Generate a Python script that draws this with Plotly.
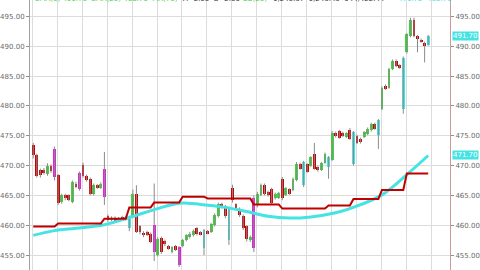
import plotly.graph_objects as go

# ---- data ----
opens = [473.4,471.8,469.2,469.3,468.6,469.9,472.8,468.4,463.9,465.1,465.0,463.9,467.0,468.8,470.1,468.3,467.7,465.2,466.7,466.3,
         469.4,461.5,460.9,461.3,460.8,461.4,461.0,461.4,461.5,465.3,459.8,458.7,458.9,458.6,460.0,455.0,457.9,457.4,456.5,455.5,
         456.5,456.3,456.5,457.5,458.0,458.3,459.5,458.8,459.2,459.0,458.9,460.0,461.5,463.6,463.2,462.8,466.2,463.5,462.7,461.5,
         459.8,457.5,464.5,463.4,465.1,466.7,465.5,466.0,464.5,464.6,467.8,465.1,466.0,465.9,467.6,470.3,470.6,470.2,470.0,472.0,
         469.8,469.3,470.5,471.4,471.0,475.5,475.8,475.5,474.8,476.0,475.6,475.0,474.5,474.8,475.3,475.9,477.0,477.6,479.5,483.4,
         483.1,486.2,487.6,486.8,488.1,489.0,491.7,494.5,491.7,491.1,490.6,490.3]
closes = [471.7,468.3,468.4,468.8,470.0,469.1,468.1,463.7,465.0,464.5,464.3,467.2,466.5,466.0,468.3,467.6,465.2,466.8,466.3,467.0,
          464.8,460.9,461.3,460.8,461.2,461.0,461.4,459.6,465.3,458.9,458.9,458.3,458.4,457.2,455.6,457.7,455.5,456.8,456.1,456.3,
          455.9,453.3,457.5,458.3,458.6,459.0,458.6,458.5,456.2,458.7,460.2,461.7,463.5,463.0,461.5,457.5,464.2,462.8,461.7,459.5,
          457.7,458.0,456.2,465.3,466.7,465.3,465.0,463.8,465.3,465.4,464.5,466.2,465.3,467.8,470.3,469.5,466.7,469.0,471.4,469.5,
          469.2,470.4,472.0,469.8,475.5,474.9,474.7,475.0,475.4,474.5,470.3,473.8,473.9,475.6,476.2,477.0,476.2,475.1,483.1,482.9,
          486.2,487.6,486.7,486.4,479.5,492.0,494.5,491.7,491.2,490.8,490.1,491.7]
highs = [473.8,472.0,469.5,469.6,470.4,470.2,473.2,468.6,465.3,465.3,465.2,467.5,467.3,469.0,470.5,468.5,468.0,467.0,466.9,467.2,
         472.3,461.8,461.5,461.5,461.4,461.6,461.6,461.6,466.0,466.7,460.0,459.0,459.1,458.8,467.0,458.0,458.1,457.6,456.7,456.5,
         456.7,456.5,457.7,458.5,458.9,459.3,459.7,459.0,459.4,459.2,460.4,462.0,463.8,463.8,463.4,463.0,466.8,463.7,463.0,461.8,
         460.0,458.3,465.0,465.6,467.0,467.0,465.8,466.3,465.5,465.6,468.1,466.4,466.2,468.0,470.6,470.5,470.8,470.4,471.6,473.8,
         470.0,470.6,472.2,471.6,475.8,475.7,476.0,475.7,475.6,476.3,475.8,475.2,474.7,475.8,476.4,477.2,477.2,477.8,483.3,483.6,
         486.4,487.8,487.8,487.0,488.3,492.2,494.8,494.8,491.9,491.3,490.8,491.9]
lows = [471.2,468.0,468.0,468.5,468.3,468.8,467.5,463.4,463.6,464.2,464.0,463.7,466.2,465.8,468.0,467.3,465.0,465.0,466.1,466.1,
        463.4,460.6,460.7,460.6,460.6,460.8,460.8,459.0,461.3,458.7,458.5,458.0,458.2,457.0,454.0,454.8,455.2,456.5,455.9,455.3,
        455.7,453.0,456.3,457.3,457.8,458.1,458.3,458.3,455.0,458.5,458.7,459.8,461.3,462.8,461.2,456.7,463.8,462.5,461.4,459.2,
        457.3,457.2,455.5,463.0,464.9,465.0,464.8,463.5,464.3,464.4,464.2,464.9,465.1,465.7,467.4,469.3,466.4,468.8,469.8,469.3,
        469.0,469.1,470.3,467.8,470.8,474.7,474.5,474.8,474.6,474.3,470.0,473.6,473.7,474.6,475.1,475.7,476.0,472.8,479.3,482.7,
        482.9,486.0,486.5,486.2,478.7,488.8,491.5,491.5,489.0,490.6,487.3,490.1]
kinds = ["r","r","r","r","g","r","m","r","g","r","r","g","r","m","r","r","r","g","r","g",
         "m","r","g","r","g","r","g","c","g","r","r","r","r","r","m","g","r","r","r","g",
         "r","m","g","g","g","g","r","r","c","r","g","g","g","r","r","c","r","r","r","r",
         "r","g","m","g","g","r","r","r","g","g","r","g","r","g","g","r","c","r","g","r",
         "r","g","g","c","g","r","r","r","g","r","c","r","r","g","g","g","r","c","g","r",
         "g","g","r","r","c","g","g","r","r","r","r","c"]

# dark-red step indicator (index, value)
step_x = [0, 6, 7, 19, 20, 26, 27, 33, 34, 41, 42, 48, 49, 61, 62, 69, 70, 82, 83, 89, 90, 97, 98, 104, 105, 111]
step_y = [459.8, 459.8, 460.3, 460.3, 461.1, 461.1, 463.0, 463.0, 463.8, 463.8, 464.8, 464.8, 464.5, 464.5,
          463.5, 463.5, 462.8, 462.8, 463.3, 463.3, 464.4, 464.4, 465.9, 465.9, 468.7, 468.7]

# cyan moving average (index, value)
ma_x = [0, 6, 12, 20, 27, 35, 41, 47, 54, 60, 66, 72, 78, 85, 90, 98, 105, 111]
ma_y = [458.3, 459.1, 459.5, 460.1, 461.3, 462.8, 463.7, 463.5, 463.0, 462.3, 461.5, 461.2, 461.4, 462.1,
        463.0, 465.1, 468.5, 471.7]

y_ticks = [455, 460, 465, 470, 475, 480, 485, 490, 495]

colors = {"r": "#cc0000", "g": "#3fd43f", "m": "#e022d8", "c": "#45e3e3"}

n = len(opens)
idx = list(range(n))
base = [min(o, c) for o, c in zip(opens, closes)]
height = [max(abs(c - o), 0.15) for o, c in zip(opens, closes)]

fig = go.Figure()

# wicks
wx, wy = [], []
for i in idx:
    wx += [i, i, None]
    wy += [lows[i], highs[i], None]
fig.add_trace(go.Scatter(x=wx, y=wy, mode="lines", line=dict(color="#8a8a8a", width=1),
                         hoverinfo="skip", showlegend=False))

# bodies
fig.add_trace(go.Bar(x=idx, y=height, base=base, width=0.8,
                     marker=dict(color=[colors[k] for k in kinds], line=dict(width=0)),
                     showlegend=False))

# indicators
fig.add_trace(go.Scatter(x=ma_x, y=ma_y, mode="lines", line=dict(color="#45e3e3", width=3, shape="spline"),
                         showlegend=False))
fig.add_trace(go.Scatter(x=step_x, y=step_y, mode="lines", line=dict(color="#c00000", width=2),
                         showlegend=False))
# invisible trace to carry the right axis
fig.add_trace(go.Scatter(x=[0], y=[470], yaxis="y2", mode="markers", marker=dict(opacity=0),
                         hoverinfo="skip", showlegend=False))

yr = [452.5, 497.77]
axis_font = dict(family="DejaVu Sans", size=7, color="#6a6a6a")
fig.update_layout(
    width=480, height=270,
    margin=dict(l=25, r=25, t=0, b=0),
    paper_bgcolor="white", plot_bgcolor="white",
    barmode="overlay", bargap=0,
    xaxis=dict(range=[-0.91, 117.13], tick0=6.8, dtick=7, showticklabels=False,
               showgrid=True, gridcolor="#dcdcdc", gridwidth=1, zeroline=False,
               showline=False, ticks=""),
    yaxis=dict(range=yr, tickvals=y_ticks, ticktext=[f"{v:.2f}" for v in y_ticks],
               showgrid=True, gridcolor="#dcdcdc", gridwidth=1, zeroline=False,
               showline=True, linecolor="#a0a0a0", linewidth=1,
               ticks="outside", ticklen=3, tickcolor="#909090", tickfont=axis_font),
    yaxis2=dict(range=yr, overlaying="y", side="right", tickvals=y_ticks,
                ticktext=[f"{v:.2f}" for v in y_ticks], showgrid=False, zeroline=False,
                showline=True, linecolor="#c89a9a", linewidth=1,
                ticks="outside", ticklen=3, tickcolor="#909090", tickfont=axis_font),
)

# right-side value boxes
for val in [closes[-1], ma_y[-1]]:
    fig.add_annotation(x=1, xref="paper", y=val, yref="y", xanchor="left", xshift=2,
                       text=f"{val:.2f}", showarrow=False, bgcolor="#45e3e3",
                       font=dict(family="DejaVu Sans", size=7, color="white"), borderpad=0)

# header legend (mostly cut off at the top edge, as in the reference)
header = [
    (28, "SMA(5) 491.70  SMA(25) 468.71  MA(75)", "#3fd43f"),
    (180, "A=2.00  B=2.00", "#333333"),
    (241, "BB(20)", "#3fd43f"),
    (272, "1,240.37  1,243.45  944,422.44", "#333333"),
    (400, "471.72  468.71", "#45e3e3"),
]
for px, txt, col in header:
    fig.add_annotation(x=(px - 25) / 430, xref="paper", y=1, yref="paper", xanchor="left",
                       yanchor="middle", yshift=1, text=txt, showarrow=False,
                       font=dict(family="DejaVu Sans", size=7, color=col))

fig.write_html("out.html")
